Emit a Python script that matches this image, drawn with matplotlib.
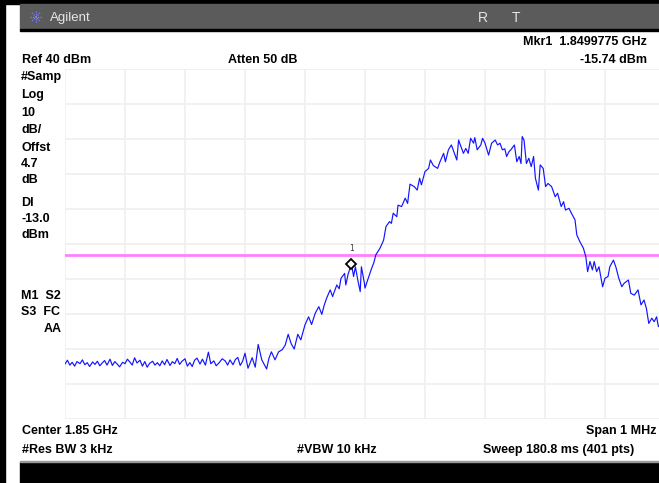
import matplotlib
matplotlib.use("Agg")
import matplotlib.pyplot as plt
from matplotlib.patches import Rectangle
from matplotlib.lines import Line2D

# Analyzer settings
CENTER_GHZ = 1.85
SPAN_KHZ = 1000.0
REF_DBM = 40.0
DB_PER_DIV = 10.0
DISPLAY_LINE_DBM = -13.0
MKR_GHZ = 1.8499775
MKR_DBM = -15.74

# Trace: offset from span start (kHz) and level (dBm)
trace_khz = [
    0, 4, 8, 12, 16, 20, 25, 29, 33, 37, 41, 46, 50, 54, 58, 62, 66, 70, 75, 79,
    83, 87, 91, 96, 100, 104, 108, 112, 116, 120, 125, 129, 133, 137, 141, 146,
    150, 154, 158, 162, 166, 170, 175, 179, 183, 187, 191, 195, 200, 204, 208,
    212, 216, 220, 225, 229, 234, 239, 243, 248, 252, 257, 262, 267, 271, 275,
    280, 284, 288, 292, 296, 300, 305, 312, 317, 322, 328, 336, 340, 344, 350,
    356, 362, 367, 372, 377, 382, 388, 393, 400, 406, 411, 417, 423, 428, 432,
    436, 442, 446, 453, 457, 460, 466, 468, 472, 477.5, 481, 484, 488, 492, 494,
    499, 500, 505, 511, 515, 518, 525, 531, 535, 541, 544, 547, 553, 555, 561,
    567, 571, 575, 582, 587, 591, 594, 600, 606, 609, 614, 621, 625, 631, 634,
    639, 644, 648, 653, 656, 659, 664, 668, 672, 676, 681, 683, 687, 693, 696,
    700, 706, 711, 717, 721, 725, 729, 733, 736, 740, 743, 749, 753, 757, 760,
    762, 765, 769, 773, 777, 781, 784, 789, 792, 797, 801, 805, 811, 817, 821,
    827, 831, 834, 840, 844, 850, 853, 858, 864, 868, 871, 875, 879, 882, 886,
    890, 896, 900, 905, 908, 914, 918, 923, 928, 932, 939, 943, 949, 955, 960,
    965, 969, 973, 978, 982, 986, 989, 995, 1000,
]
trace_dbm = [
    -44.3, -43.2, -44.6, -43.8, -44.9, -43.6, -44.2, -43.1, -44.5, -43.9,
    -45.0, -43.7, -44.4, -43.5, -44.8, -44.0, -43.3, -44.6, -42.9, -44.7,
    -43.6, -44.3, -45.1, -43.8, -44.2, -42.9, -43.7, -44.6, -42.5, -44.0,
    -43.2, -44.9, -43.6, -45.2, -44.1, -43.5, -44.6, -43.9, -44.8, -43.4,
    -44.5, -43.0, -44.7, -43.6, -44.2, -42.7, -44.4, -43.5, -42.8, -44.9,
    -43.9, -45.0, -43.2, -42.6, -44.3, -42.9, -44.6, -40.9, -44.2, -43.4,
    -44.8, -43.9, -42.8, -43.4, -44.6, -43.1, -44.5, -43.0, -42.4, -44.7,
    -43.5, -41.2, -45.5, -42.5, -45.2, -38.7, -43.1, -45.7, -42.6, -40.8,
    -43.1, -40.8, -40.2, -38.9, -35.8, -38.5, -40.0, -35.8, -37.4, -33.1,
    -30.8, -33.0, -29.8, -27.9, -30.1, -27.5, -25.5, -23.1, -25.0, -21.7,
    -22.8, -19.8, -18.4, -21.7, -18.5, MKR_DBM, -19.3, -16.5, -20.3, -23.6,
    -16.5, -21.2, -22.6, -20.0, -17.0, -15.2, -13.1, -11.2, -8.9, -5.0, -3.6,
    -4.1, -1.2, -2.2, 1.1, 0.7, 3.1, 1.6, 7.1, 6.4, 5.4, 8.8, 6.9, 10.7, 11.6,
    14.0, 12.4, 11.6, 13.5, 15.9, 13.5, 16.9, 18.3, 16.4, 14.0, 19.7, 18.3,
    15.9, 17.3, 15.9, 20.2, 18.8, 20.4, 16.9, 18.3, 20.2, 18.8, 15.4, 18.8,
    19.7, 18.3, 18.8, 16.9, 17.2, 15.0, 16.4, 16.9, 18.3, 13.5, 15.0, 13.0,
    20.7, 19.7, 13.0, 14.5, 12.1, 15.0, 8.8, 5.4, 12.6, 11.6, 6.4, 7.3, 6.4,
    3.5, 4.5, 0.7, 2.1, -0.3, 0.2, -1.2, -3.1, -7.4, -9.3, -11.2, -13.6,
    -17.9, -15.0, -17.4, -15.0, -17.9, -16.5, -22.2, -19.8, -19.3, -16.5,
    -14.6, -16.5, -19.8, -22.2, -21.2, -20.3, -24.1, -24.6, -23.1, -27.4,
    -26.0, -28.4, -32.7, -31.2, -32.2, -30.8, -33.6, -32.5, -34.0,
]

W, H = 659, 483
fig = plt.figure(figsize=(W / 100, H / 100), dpi=100)
fig.patch.set_facecolor("white")


def fx(px):
    return px / W


def fy(py):
    return 1 - py / H


# Frame and title bar
fig.add_artist(Rectangle((0, fy(4)), 1, 4 / H, color="black", transform=fig.transFigure))
fig.add_artist(Rectangle((0, 0), fx(5), 1, color="black", transform=fig.transFigure))
fig.add_artist(Rectangle((fx(20), fy(29)), 1, 25 / H, color="#5b5b5b", transform=fig.transFigure))
fig.add_artist(Rectangle((fx(20), fy(30.5)), 1, 1.5 / H, color="black", transform=fig.transFigure))
fig.add_artist(Rectangle((fx(20), 0), 1, 21 / H, color="black", transform=fig.transFigure))
fig.add_artist(Rectangle((fx(20), fy(462)), 1, 1 / H, color="#9a9a9a", transform=fig.transFigure))

# Agilent starburst
for dx, dy in [(6, 0), (4.2, 4.2), (0, 6), (-4.2, 4.2)]:
    fig.add_artist(Line2D([fx(36 - dx), fx(36 + dx)], [fy(17 - dy), fy(17 + dy)],
                          color="#7f7fff", lw=0.9, ls=(0, (1, 1)), transform=fig.transFigure))

fig.text(fx(50), fy(17.5), "Agilent", color="#e6e6e6", fontsize=9.5,
         family="Liberation Sans", va="center")
fig.text(fx(483), fy(17.5), "R", color="#e6e6e6", fontsize=10,
         family="Liberation Sans", va="center", ha="center")
fig.text(fx(516), fy(17.5), "T", color="#e6e6e6", fontsize=10,
         family="Liberation Sans", va="center", ha="center")

txt = dict(fontsize=9, family="Liberation Sans", weight="bold", va="center", color="black")

fig.text(fx(647), fy(42), f"Mkr1  {MKR_GHZ:.7f} GHz", ha="right", **txt)
fig.text(fx(647), fy(60), f"{MKR_DBM:.2f} dBm", ha="right", **txt)
fig.text(fx(22), fy(60), f"Ref {REF_DBM:.0f} dBm", **txt)
fig.text(fx(228), fy(60), "Atten 50 dB", **txt)

left_labels = [
    ("#Samp", 77), ("Log", 95), ("10", 113), ("dB/", 130), ("Offst", 148),
    ("4.7", 164), ("dB", 180), ("Dl", 203), ("-13.0", 219), ("dBm", 235),
    ("M1  S2", 296), ("S3  FC", 312),
]
for label, ypx in left_labels:
    fig.text(fx(21), fy(ypx), label, **txt)
fig.text(fx(62), fy(329), "AA", ha="right", **txt)

fig.text(fx(22), fy(431), f"Center {CENTER_GHZ} GHz", **txt)
fig.text(fx(657), fy(431), "Span 1 MHz", ha="right", **txt)
fig.text(fx(22), fy(450), "#Res BW 3 kHz", **txt)
fig.text(fx(297), fy(450), "#VBW 10 kHz", **txt)
fig.text(fx(483), fy(450), "Sweep 180.8 ms (401 pts)", **txt)

# Graticule: 10 x 10 divisions
ax = fig.add_axes([fx(65), fy(419), 600 / W, 350 / H])
ax.set_xlim(0, SPAN_KHZ)
ax.set_ylim(REF_DBM - 10 * DB_PER_DIV, REF_DBM)
ax.set_xticks([i * SPAN_KHZ / 10 for i in range(11)])
ax.set_yticks([REF_DBM - i * DB_PER_DIV for i in range(11)])
ax.grid(True, color="#efefef", lw=1.2)
ax.tick_params(length=0, labelbottom=False, labelleft=False)
for s in ax.spines.values():
    s.set_visible(False)
ax.set_axisbelow(True)

ax.axhline(DISPLAY_LINE_DBM, color="#ff80ff", lw=2.0, zorder=2)
ax.plot(trace_khz, trace_dbm, color="#1414ff", lw=0.85, zorder=3)

mkr_khz = (MKR_GHZ - CENTER_GHZ) * 1e6 + SPAN_KHZ / 2
ax.plot([mkr_khz], [MKR_DBM], marker="D", ms=5.5, mfc="white", mec="black",
        mew=1.3, zorder=4)
ax.text(mkr_khz, MKR_DBM + 3.2, "1", fontsize=5.5, ha="center", va="bottom",
        family="DejaVu Sans", color="#333333", zorder=4)
ax.set_clip_on(False)

fig.savefig("out.png", dpi=100)
